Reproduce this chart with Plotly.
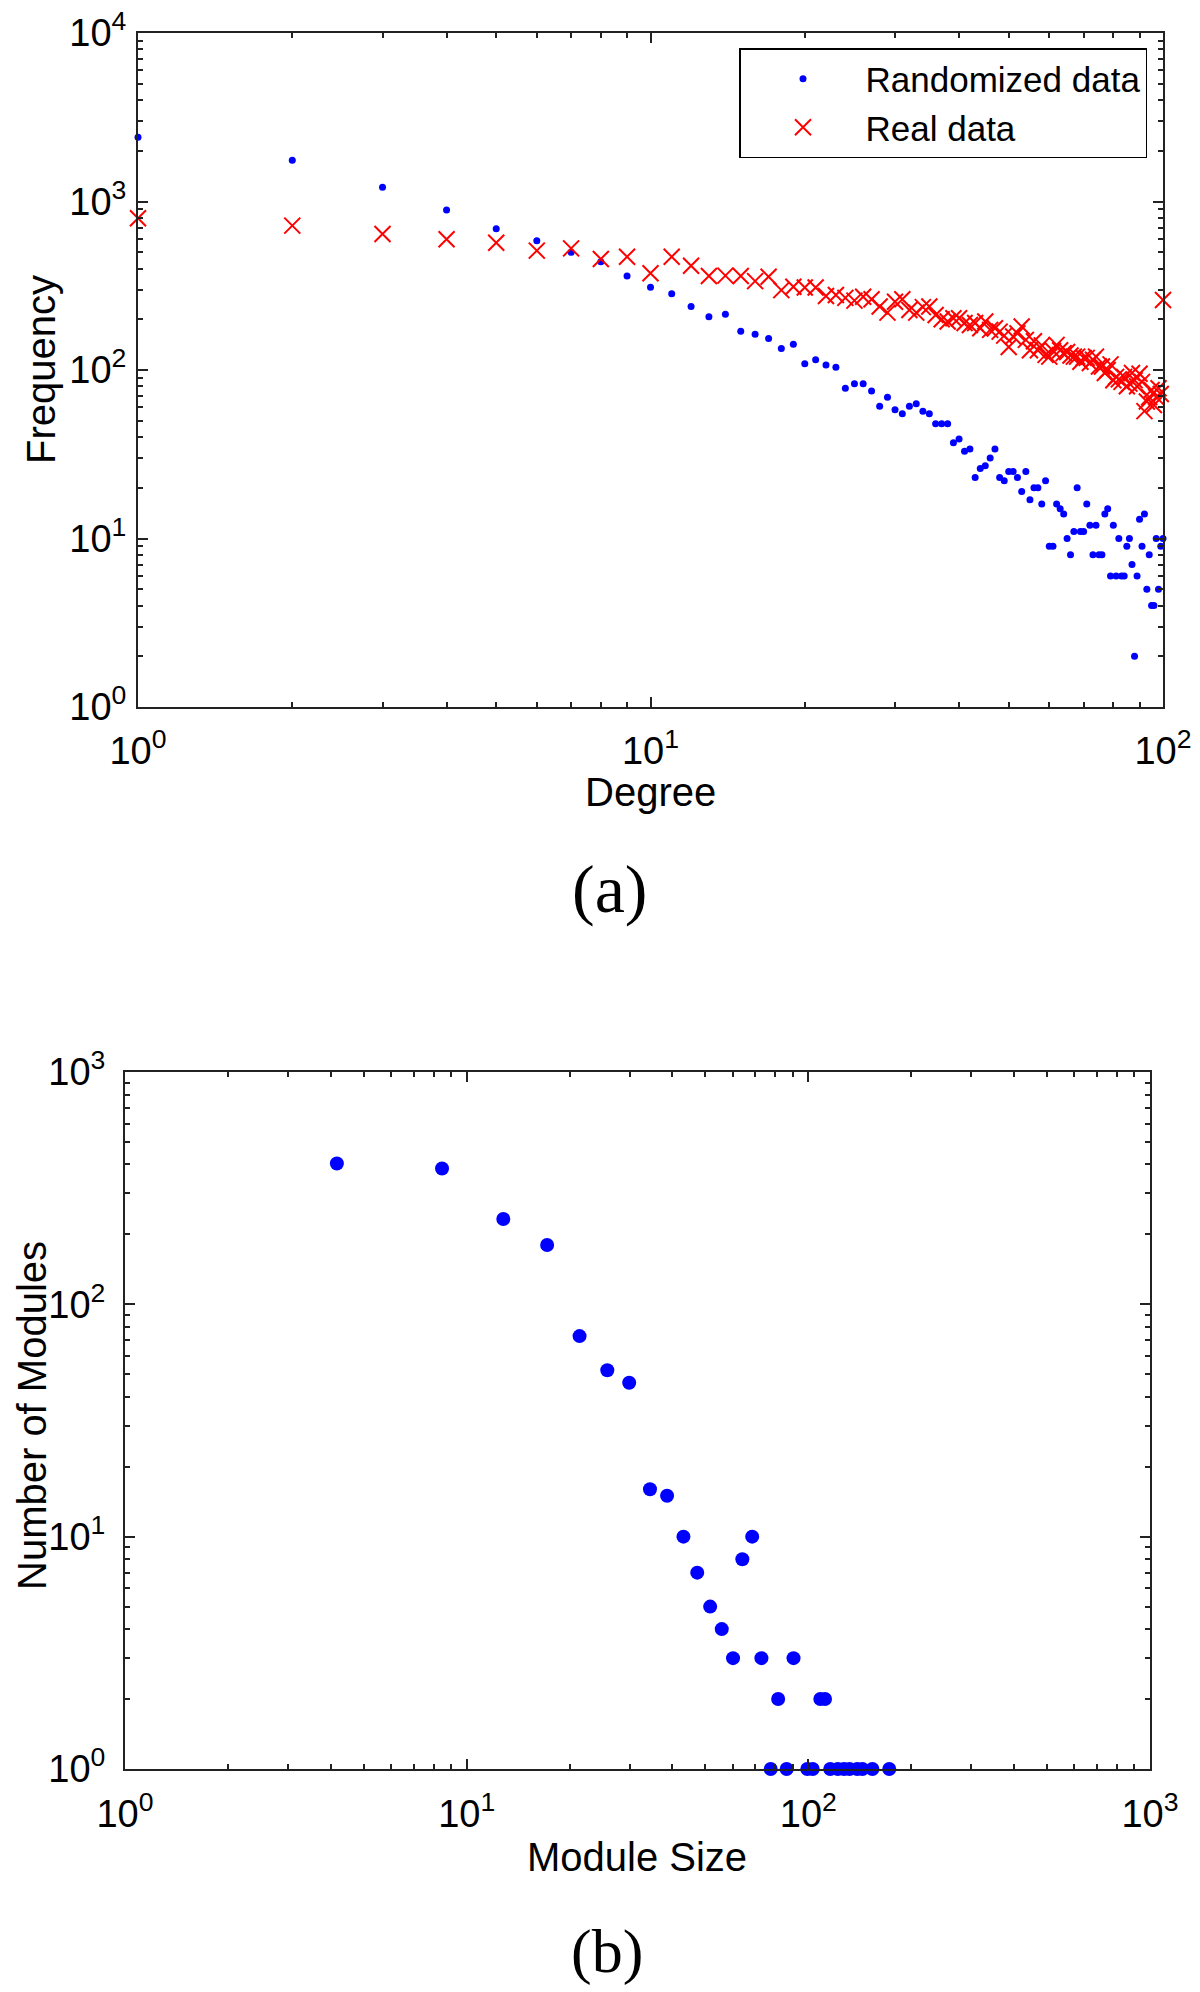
import plotly.graph_objects as go

# ---------------- Panel (a): degree distribution ----------------
degree = list(range(1, 101))

randomized_freq = [
    2405, 1755, 1213, 891, 690, 585, 499, 439, 361, 310,
    283, 238, 207, 214, 170, 163, 154, 134, 142, 109,
    115, 107, 104, 78, 83, 83, 75, 61, 69, 58,
    55, 61, 63, 57, 55, 48, 48, 48, 37, 39,
    33, 34, 23, 26, 27, 30, 34, 23, 22, 25,
    25, 23, 19, 25, 17, 20, 20, 16, 22, 9,
    9, 16, 15, 14, 10, 8, 11, 20, 11, 11,
    16, 12, 8, 12, 8, 8, 14, 15, 6, 12,
    6, 10, 6, 6, 9, 10, 7, 2, 6, 13,
    9, 14, 5, 8, 4, 4, 10, 5, 9, 10,
]

real_freq = [
    795, 719, 641, 597, 569, 511, 527, 456, 470, 375,
    470, 416, 361, 363, 361, 337, 358, 298, 312, 309,
    309, 275, 279, 268, 258, 272, 263, 238, 219, 254,
    263, 227, 219, 236, 238, 212, 200, 194, 203, 203,
    190, 185, 190, 177, 194, 173, 177, 169, 160, 137,
    158, 165, 181, 151, 131, 148, 131, 140, 123, 120,
    130, 141, 131, 126, 128, 122, 120, 120, 112, 118,
    118, 110, 115, 120, 105, 105, 96, 100, 108, 87,
    91, 88, 85, 91, 80, 83, 96, 87, 80, 95,
    85, 57, 65, 69, 76, 62, 69, 78, 72, 260,
]

# ---------------- Panel (b): module size distribution ----------------
module_size = [4.17, 8.47, 12.8, 17.2, 21.4, 25.8, 29.9, 34.4, 38.6, 43.1,
               47.3, 51.6, 55.8, 60.2, 64.1, 68.5, 72.9, 77.6, 81.6, 86.4,
               90.5, 99.3, 103, 108.4, 111.9, 115.9, 122, 127.2, 132, 139,
               144, 154, 172.5]
num_modules = [404, 384, 233, 180, 73, 52, 46, 16, 15, 10,
               7, 5, 4, 3, 8, 10, 3, 1, 2, 1,
               3, 1, 1, 2, 2, 1, 1, 1, 1, 1,
               1, 1, 1]

tick_a_x = [1, 10, 100]
tick_a_x_text = ["10<sup>0</sup>", "10<sup>1</sup>", "10<sup>2</sup>"]
tick_a_y = [1, 10, 100, 1000, 10000]
tick_a_y_text = ["10<sup>0</sup>", "10<sup>1</sup>", "10<sup>2</sup>", "10<sup>3</sup>", "10<sup>4</sup>"]
tick_b = [1, 10, 100, 1000]
tick_b_text = ["10<sup>0</sup>", "10<sup>1</sup>", "10<sup>2</sup>", "10<sup>3</sup>"]

def minors(decades):
    vals = []
    for d in range(decades):
        for m in range(2, 10):
            vals.append(m * 10 ** d)
    return vals

FONT = "Liberation Sans, Arial, Helvetica, sans-serif"
SERIF = "Liberation Serif, Times New Roman, serif"
OFF = 8                      # page body margin offset
W, H = 1200 - OFF, 1992 - OFF
AX = "#222222"

def px(x):
    return (x - OFF) / W

def py(y):
    return (H - (y - OFF)) / H

fig = go.Figure()

fig.add_trace(go.Scatter(
    x=degree, y=randomized_freq, mode="markers", name="Randomized data",
    marker=dict(symbol="circle", size=7, color="#0000FF"),
    cliponaxis=False, xaxis="x", yaxis="y",
))
fig.add_trace(go.Scatter(
    x=degree, y=real_freq, mode="markers", name="Real data",
    marker=dict(symbol="x-thin", size=16, color="#FF0000",
                line=dict(color="#FF0000", width=2)),
    cliponaxis=False, xaxis="x", yaxis="y",
))
fig.add_trace(go.Scatter(
    x=module_size, y=num_modules, mode="markers", name="Modules",
    marker=dict(symbol="circle", size=14, color="#0000FF"),
    cliponaxis=False, showlegend=False, xaxis="x2", yaxis="y2",
))

def axis(domain, rng, tv, tt, minor_vals, anchor, standoff):
    return dict(
        domain=domain, type="log", range=rng, anchor=anchor,
        tickmode="array", tickvals=tv, ticktext=tt,
        ticks="inside", ticklen=10, tickwidth=1.5, tickcolor=AX,
        minor=dict(tickmode="array", tickvals=minor_vals, ticks="inside",
                   ticklen=5, tickwidth=1.5, tickcolor=AX, showgrid=False),
        mirror="ticks", showline=True, linewidth=2, linecolor=AX,
        showgrid=False, zeroline=False, automargin=False,
        tickfont=dict(family=FONT, size=38, color="#000000"),
        ticklabelstandoff=standoff, ticklabeloverflow="allow",
    )

fig.update_layout(
    width=W, height=H,
    margin=dict(l=0, r=0, t=0, b=0, pad=0, autoexpand=False),
    paper_bgcolor="white", plot_bgcolor="white",
    xaxis=axis([px(138), px(1163)], [0, 2], tick_a_x, tick_a_x_text, minors(2), "y", 9),
    yaxis=axis([py(707), py(33)], [0, 4], tick_a_y, tick_a_y_text, minors(4), "x", 2),
    xaxis2=axis([px(125), px(1150)], [0, 3], tick_b, tick_b_text, minors(3), "y2", 10),
    yaxis2=axis([py(1769), py(1072)], [0, 3], tick_b, tick_b_text, minors(3), "x2", 10),
    legend=dict(
        x=px(1147), y=py(48), xanchor="right", yanchor="top",
        bgcolor="white", bordercolor="#000000", borderwidth=1.5,
        font=dict(family=FONT, size=35, color="#000000"),
        itemwidth=115, tracegroupgap=0,
    ),
    showlegend=True,
)

annots = [
    dict(text="Frequency", x=41, y=370, angle=-90, size=40, family=FONT),
    dict(text="Degree", x=650, y=792, angle=0, size=40, family=FONT),
    dict(text="(a)", x=609, y=889, angle=0, size=68, family=SERIF),
    dict(text="Number of Modules", x=32, y=1416, angle=-90, size=40, family=FONT),
    dict(text="Module Size", x=637, y=1857, angle=0, size=40, family=FONT),
    dict(text="(b)", x=607, y=1951, angle=0, size=62, family=SERIF),
]
for a in annots:
    fig.add_annotation(
        text=a["text"], x=px(a["x"]), y=py(a["y"]), xref="paper", yref="paper",
        xanchor="center", yanchor="middle", showarrow=False, textangle=a["angle"],
        font=dict(family=a["family"], size=a["size"], color="#000000"),
    )

fig.write_html("out.html")
